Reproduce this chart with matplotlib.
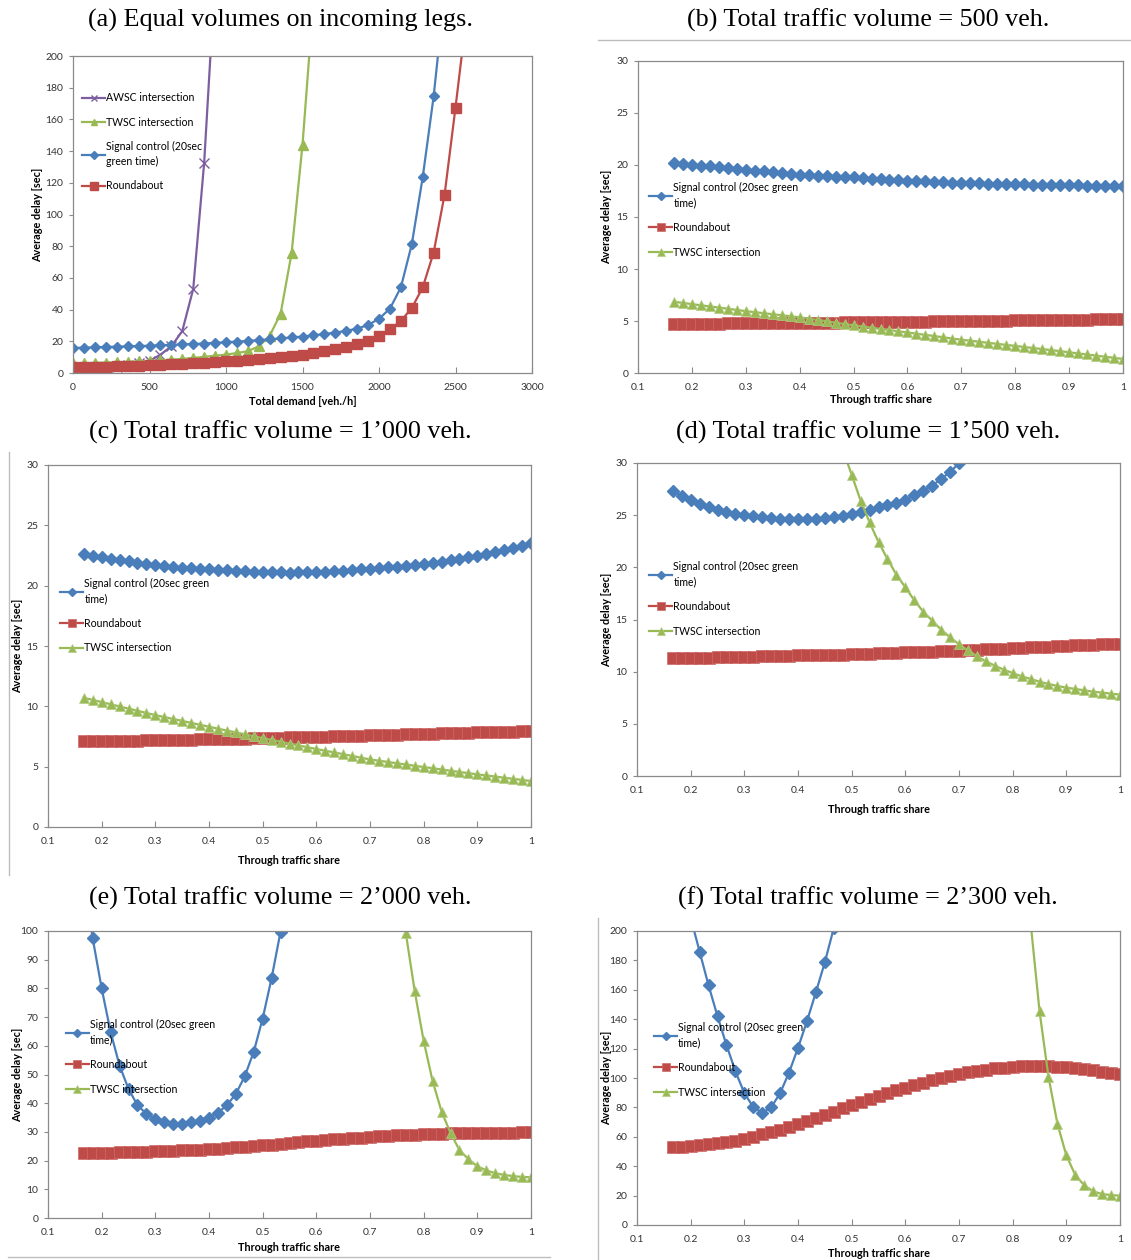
import numpy as np
import matplotlib.pyplot as plt
from matplotlib.ticker import FuncFormatter

nan = np.nan

# ---- (a) equal volumes, x = total demand ----
demand = np.arange(37) * 500 / 7
awsc_a = [1.5, 2.0, 2.6, 3.2, 4.0, 5.0, 6.3, 7.6, 11.6, 16.8, 26.5, 53.0, 132.5, 250.0] + [nan] * 23
twsc_a = [6.0, 6.2, 6.4, 6.6, 6.8, 7.0, 7.3, 7.6, 8.0, 8.4, 8.9, 9.5, 10.2, 10.9, 11.6, 12.6,
          13.8, 16.8, 23.5, 37.5, 75.5, 144.0, 235.0] + [nan] * 14
sig_a = [15.8, 16.0, 16.2, 16.4, 16.6, 16.8, 17.0, 17.2, 17.5, 17.8, 18.0, 18.3, 18.6, 19.0,
         19.4, 19.8, 20.2, 20.7, 21.2, 21.8, 22.4, 23.0, 23.8, 24.6, 25.5, 26.6, 28.0, 30.3,
         34.2, 40.6, 54.0, 81.2, 123.5, 174.5, 240.0] + [nan] * 2
rb_a = [3.5, 3.6, 3.8, 4.0, 4.2, 4.4, 4.6, 4.9, 5.1, 5.4, 5.7, 6.0, 6.4, 6.9, 7.4, 7.8, 8.2,
        8.7, 9.3, 10.0, 10.9, 11.6, 12.6, 13.8, 15.0, 16.4, 18.0, 20.3, 23.4, 27.6, 32.8,
        41.0, 54.0, 76.0, 112.5, 167.5, 225.0]

# ---- (b)-(f), x = through traffic share ----
share = np.arange(10, 61) / 60

sig_500 = [20.20, 20.11, 20.02, 19.94, 19.86, 19.77, 19.69, 19.61, 19.53, 19.45, 19.38, 19.30,
           19.22, 19.15, 19.08, 19.03, 18.98, 18.94, 18.89, 18.85, 18.80, 18.75, 18.70, 18.65,
           18.60, 18.55, 18.50, 18.46, 18.42, 18.38, 18.34, 18.31, 18.28, 18.26, 18.23, 18.21,
           18.19, 18.17, 18.15, 18.13, 18.11, 18.09, 18.07, 18.05, 18.04, 18.03, 18.02, 18.01,
           18.01, 18.00, 18.00]
rb_500 = [4.72, 4.73, 4.73, 4.74, 4.75, 4.75, 4.76, 4.77, 4.77, 4.78, 4.79, 4.80, 4.81, 4.81,
          4.82, 4.83, 4.84, 4.85, 4.85, 4.86, 4.87, 4.88, 4.89, 4.90, 4.91, 4.92, 4.93, 4.94,
          4.95, 4.96, 4.97, 4.98, 4.99, 5.00, 5.01, 5.02, 5.03, 5.04, 5.05, 5.06, 5.07, 5.08,
          5.09, 5.10, 5.11, 5.12, 5.14, 5.15, 5.16, 5.18, 5.19]
twsc_500 = [6.85, 6.74, 6.62, 6.51, 6.40, 6.29, 6.18, 6.06, 5.95, 5.85, 5.75, 5.65, 5.55, 5.45,
            5.35, 5.23, 5.10, 4.97, 4.84, 4.71, 4.58, 4.47, 4.36, 4.24, 4.13, 4.01, 3.90, 3.78,
            3.66, 3.55, 3.43, 3.31, 3.20, 3.10, 3.00, 2.90, 2.80, 2.70, 2.60, 2.50, 2.40, 2.30,
            2.20, 2.10, 1.99, 1.88, 1.78, 1.67, 1.56, 1.46, 1.35]

sig_1000 = [22.63, 22.49, 22.36, 22.24, 22.12, 22.01, 21.90, 21.80, 21.70, 21.63, 21.56, 21.50,
            21.44, 21.39, 21.34, 21.30, 21.26, 21.22, 21.19, 21.16, 21.14, 21.12, 21.10, 21.09,
            21.10, 21.11, 21.14, 21.17, 21.20, 21.24, 21.29, 21.34, 21.39, 21.45, 21.51, 21.57,
            21.64, 21.72, 21.80, 21.90, 22.00, 22.11, 22.23, 22.36, 22.50, 22.64, 22.79, 22.95,
            23.13, 23.32, 23.52]
rb_1000 = [7.09, 7.10, 7.11, 7.12, 7.14, 7.15, 7.16, 7.17, 7.19, 7.20, 7.22, 7.23, 7.24, 7.26,
           7.27, 7.29, 7.30, 7.32, 7.33, 7.35, 7.37, 7.38, 7.40, 7.42, 7.44, 7.46, 7.48, 7.50,
           7.52, 7.54, 7.56, 7.58, 7.60, 7.62, 7.64, 7.66, 7.68, 7.70, 7.72, 7.74, 7.76, 7.78,
           7.80, 7.82, 7.84, 7.86, 7.87, 7.89, 7.91, 7.93, 7.95]
twsc_1000 = [10.71, 10.53, 10.35, 10.17, 9.99, 9.81, 9.63, 9.45, 9.27, 9.11, 8.95, 8.79, 8.63,
             8.47, 8.31, 8.15, 7.99, 7.84, 7.68, 7.52, 7.37, 7.22, 7.07, 6.91, 6.76, 6.61, 6.46,
             6.32, 6.18, 6.03, 5.89, 5.74, 5.60, 5.49, 5.39, 5.28, 5.18, 5.07, 4.97, 4.87, 4.77,
             4.66, 4.56, 4.46, 4.36, 4.27, 4.18, 4.08, 3.99, 3.90, 3.81]

sig_1500 = [27.32, 26.84, 26.45, 26.07, 25.78, 25.53, 25.30, 25.14, 25.02, 24.89, 24.80, 24.70,
            24.66, 24.63, 24.63, 24.63, 24.66, 24.73, 24.80, 24.90, 25.08, 25.30, 25.53, 25.75,
            25.97, 26.20, 26.49, 26.90, 27.35, 27.83, 28.47, 29.14, 29.97] + [nan] * 18
rb_1500 = [11.28, 11.30, 11.31, 11.33, 11.35, 11.37, 11.39, 11.41, 11.43, 11.45, 11.47, 11.49,
           11.51, 11.53, 11.55, 11.57, 11.59, 11.61, 11.62, 11.64, 11.66, 11.69, 11.72, 11.75,
           11.78, 11.81, 11.84, 11.87, 11.90, 11.93, 11.97, 11.99, 12.01, 12.05, 12.09, 12.13,
           12.17, 12.21, 12.25, 12.29, 12.33, 12.37, 12.41, 12.45, 12.48, 12.51, 12.54, 12.57,
           12.61, 12.64, 12.68]
twsc_1500 = [nan] * 19 + [31.3, 28.88, 26.39, 24.31, 22.43, 20.8, 19.3, 18.08, 16.84, 15.75,
                          14.89, 14.03, 13.29, 12.62, 12.04, 11.5, 10.99, 10.58, 10.19, 9.87,
                          9.55, 9.3, 9.04, 8.82, 8.63, 8.47, 8.34, 8.21, 8.08, 7.99, 7.89, 7.8]

sig_2000 = [118.0, 97.4, 80.0, 64.8, 53.1, 45.0, 39.3, 36.3, 34.5, 33.5, 32.9, 32.9, 33.3, 33.8,
            34.9, 36.7, 39.3, 43.2, 49.4, 57.9, 69.5, 83.6, 99.8] + [nan] * 28
rb_2000 = [22.7, 22.7, 22.75, 22.8, 22.85, 22.9, 23.0, 23.1, 23.3, 23.4, 23.5, 23.6, 23.7, 23.85,
           24.0, 24.2, 24.4, 24.6, 24.8, 25.05, 25.3, 25.55, 25.8, 26.1, 26.4, 26.7, 27.0, 27.2,
           27.4, 27.6, 27.8, 28.0, 28.2, 28.4, 28.6, 28.75, 28.9, 29.05, 29.2, 29.3, 29.4, 29.5,
           29.55, 29.6, 29.7, 29.72, 29.75, 29.77, 29.78, 29.8, 29.8]
twsc_2000 = [nan] * 35 + [130.0, 99.4, 79.0, 61.7, 47.7, 37.1, 29.6, 23.7, 20.5, 18.0, 16.6,
                          15.6, 15.0, 14.6, 14.3, 14.2]

sig_2300 = [nan, nan, 209.0, 186.0, 163.0, 142.0, 122.5, 104.6, 89.7, 80.2, 76.3, 80.0, 89.7,
            103.7, 120.5, 138.6, 158.3, 178.7, 202.0] + [nan] * 32
rb_2300 = [52.8, 53.1, 53.5, 54.1, 54.8, 55.6, 56.4, 57.3, 58.4, 59.9, 61.6, 63.1, 64.6, 66.8,
           69.0, 71.0, 73.0, 75.0, 77.0, 79.4, 81.8, 83.7, 85.6, 87.7, 89.7, 91.5, 93.3, 95.0,
           96.7, 98.3, 99.9, 101.3, 102.6, 103.8, 104.9, 105.7, 106.5, 107.1, 107.6, 108.0,
           108.3, 108.2, 108.0, 107.7, 107.4, 106.8, 106.2, 105.3, 104.2, 103.3, 102.4]
twsc_2300 = [nan] * 40 + [206.0, 145.6, 101.0, 69.0, 47.3, 34.0, 27.0, 22.9, 21.0, 20.4, 19.9]

BLUE, RED, GREEN, PURPLE = "#4a7ebb", "#be4b48", "#98b954", "#7d5fa0"
SIG_LBL = "Signal control (20sec green\ntime)"

W, H = 1131, 1260
fig = plt.figure(figsize=(W / 100, H / 100), dpi=100)
plt.rcParams["font.family"] = ["Lato", "DejaVu Sans"]


def add_ax(l, t, r, b):
    return fig.add_axes([l / W, 1 - b / H, (r - l) / W, (b - t) / H])


def style_ax(ax, xlim, xticks, ylim, yticks, xlabel, xlab_y, ylab_x):
    ax.set_xlim(xlim)
    ax.set_ylim(ylim)
    ax.set_xticks(xticks)
    ax.set_yticks(yticks)
    ax.xaxis.set_major_formatter(FuncFormatter(lambda v, p: f"{v:g}"))
    ax.yaxis.set_major_formatter(FuncFormatter(lambda v, p: f"{v:g}"))
    for s in ax.spines.values():
        s.set_color("#8a8a8a")
        s.set_linewidth(0.9)
    ax.tick_params(axis="x", direction="in", length=4, color="#8a8a8a",
                   labelsize=7.5, labelcolor="#333333", pad=7)
    ax.tick_params(axis="y", direction="out", length=3, color="#8a8a8a",
                   labelsize=7.5, labelcolor="#333333", pad=4)
    ax.set_xlabel(xlabel, fontsize=7.8, fontweight="bold")
    ax.set_ylabel("Average delay [sec]", fontsize=7.8, fontweight="bold")
    ax.xaxis.set_label_coords(0.5, xlab_y)
    ax.yaxis.set_label_coords(ylab_x, 0.5)


def add_legend(ax, xy, spacing):
    leg = ax.legend(loc="upper left", bbox_to_anchor=xy, frameon=False, fontsize=7.6,
                    borderpad=0, borderaxespad=0, handlelength=2.2, handletextpad=0.1,
                    labelspacing=spacing, markerscale=0.75)
    for t in leg.get_texts():
        t.set_linespacing(1.45)
    return leg


def share_panel(ax, sig, rb, twsc, ylim, yticks, leg_xy, xlab_y, ylab_x):
    ax.plot(share, sig, color=BLUE, lw=1.6, marker="D", ms=6, label=SIG_LBL)
    ax.plot(share, rb, color=RED, lw=1.6, marker="s", ms=8.3, mec="#cd6a67", mew=0.5,
            label="Roundabout")
    ax.plot(share, twsc, color=GREEN, lw=1.6, marker="^", ms=7.2, mec="#b3cd85", mew=0.5,
            label="TWSC intersection")
    style_ax(ax, (0.1, 1.0), np.arange(0.1, 1.01, 0.1), ylim, yticks,
             "Through traffic share", xlab_y, ylab_x)
    add_legend(ax, leg_xy, 1.3)


# (a)
ax = add_ax(73, 56, 532, 373)
ax.plot(demand, awsc_a, color=PURPLE, lw=1.6, marker="x", ms=6.5, mew=1, label="AWSC intersection")
ax.plot(demand, twsc_a, color=GREEN, lw=1.6, marker="^", ms=6.5, label="TWSC intersection")
ax.plot(demand, sig_a, color=BLUE, lw=1.6, marker="D", ms=5.5, label="Signal control (20sec\ngreen time)")
ax.plot(demand, rb_a, color=RED, lw=1.6, marker="s", ms=7.2, label="Roundabout")
style_ax(ax, (0, 3000), np.arange(0, 3001, 500), (0, 200), np.arange(0, 201, 20),
         "Total demand [veh./h]", -0.073, -0.066)
add_legend(ax, (0.02, 0.885), 1.25)

# (b)
share_panel(add_ax(638, 61, 1123, 373), sig_500, rb_500, twsc_500, (0, 30), np.arange(0, 31, 5),
            (0.023, 0.612), -0.067, -0.054)
# (c)
share_panel(add_ax(48, 465, 531, 827), sig_1000, rb_1000, twsc_1000, (0, 30), np.arange(0, 31, 5),
            (0.025, 0.688), -0.077, -0.052)
# (d)
share_panel(add_ax(637, 463, 1120, 776), sig_1500, rb_1500, twsc_1500, (0, 30), np.arange(0, 31, 5),
            (0.025, 0.687), -0.089, -0.052)
# (e)
share_panel(add_ax(48, 931, 531, 1218), sig_2000, rb_2000, twsc_2000, (0, 100), np.arange(0, 101, 10),
            (0.037, 0.693), -0.084, -0.052)
# (f)
share_panel(add_ax(637, 931, 1120, 1225), sig_2300, rb_2300, twsc_2300, (0, 200), np.arange(0, 201, 20),
            (0.035, 0.69), -0.078, -0.052)

titles = [
    (280, 20, "(a) Equal volumes on incoming legs."),
    (868, 20, "(b) Total traffic volume = 500 veh."),
    (280, 432, "(c) Total traffic volume = 1\u2019000 veh."),
    (868, 432, "(d) Total traffic volume = 1\u2019500 veh."),
    (280, 898, "(e) Total traffic volume = 2\u2019000 veh."),
    (868, 898, "(f) Total traffic volume = 2\u2019300 veh."),
]
for x, y, t in titles:
    fig.text(x / W, 1 - y / H, t, ha="center", va="center", family="Liberation Serif", fontsize=18.8)

# page rules from the scanned layout
for xs, ys in [((598, 1131), (40, 40)), ((9, 9), (452, 875)),
               ((8, 550), (1257, 1257)), ((598, 598), (918, 1260))]:
    fig.add_artist(plt.Line2D([xs[0] / W, xs[1] / W], [1 - ys[0] / H, 1 - ys[1] / H],
                              transform=fig.transFigure, color="#bdbdbd", lw=1))

fig.savefig("out.png", dpi=100, facecolor="white")
